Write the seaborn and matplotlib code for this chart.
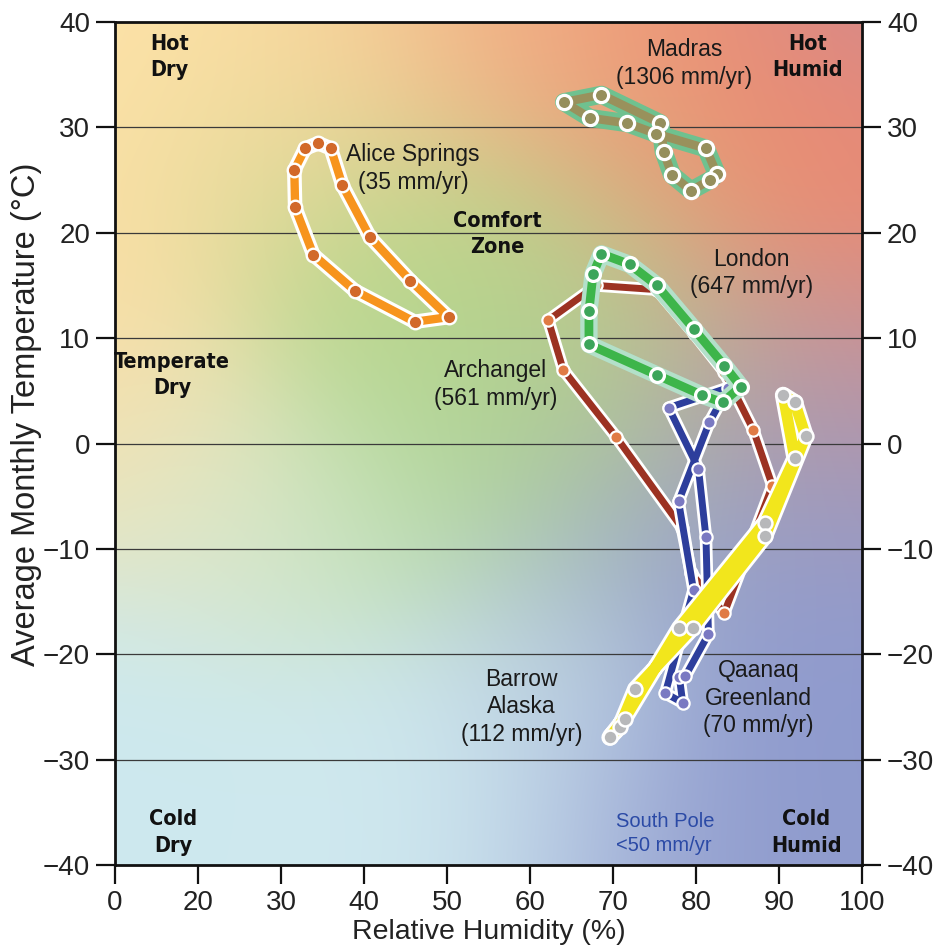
import numpy as np
import matplotlib
matplotlib.use("Agg")
import matplotlib.pyplot as plt
import matplotlib.patheffects as pe
from matplotlib.colors import to_rgb
import seaborn as sns

# ---------------- data ----------------
alice_hum = [50.2, 46.1, 38.9, 33.9, 31.7, 31.6, 32.9, 34.5, 36.0, 37.4, 40.7, 45.6]
alice_temp = [12.0, 11.55, 14.5, 17.9, 22.4, 25.95, 28.0, 28.5, 28.0, 24.5, 19.6, 15.45]

madras_hum = [79.4, 77.1, 76.1, 75.7, 68.6, 64.1, 67.2, 71.7, 75.2, 81.2, 82.5, 81.7]
madras_temp = [24.0, 25.5, 27.7, 30.4, 33.1, 32.4, 30.9, 30.4, 29.4, 28.0, 25.6, 25.0]

london_hum = [83.2, 85.4, 83.4, 79.7, 75.3, 72.0, 68.6, 67.6, 67.1, 67.1, 75.3, 80.7]
london_temp = [3.9, 5.4, 7.4, 10.9, 15.0, 17.0, 18.0, 16.1, 12.55, 9.4, 6.5, 4.6]

archangel_hum = [83.4, 79.4, 78.3, 70.4, 64.0, 62.2, 68.0, 75.3, 79.7, 83.4, 86.9, 89.2]
archangel_temp = [-16.1, -12.3, -8.0, 0.6, 7.0, 11.7, 15.0, 14.6, 10.5, 6.8, 1.3, -4.0]

barrow_hum = [78.0, 78.4, 76.3, 79.7, 77.9, 81.6, 83.9, 76.7, 80.3, 81.2, 81.5, 78.7]
barrow_temp = [-22.2, -24.6, -23.7, -13.9, -5.5, 2.0, 5.3, 3.4, -2.4, -8.9, -18.1, -22.1]

qaanaq_hum = [70.8, 69.6, 71.4, 78.0, 88.3, 91.9, 90.5, 91.9, 93.2, 88.3, 79.6, 72.7]
qaanaq_temp = [-26.9, -27.9, -26.1, -17.5, -7.5, -1.4, 4.6, 3.9, 0.7, -8.8, -17.5, -23.3]

x_ticks = [10, 20, 30, 40, 50, 60, 70, 80, 90, 100]
x_tick_labels = ["0", "20", "30", "40", "50", "60", "70", "80", "90", "100"]
y_ticks = [-40, -30, -20, -10, 0, 10, 20, 30, 40]

# ---------------- styling ----------------
sns.set_theme(style="white")
plt.rcParams["font.family"] = ["Liberation Sans", "DejaVu Sans"]
plt.rcParams["axes.unicode_minus"] = True

fig = plt.figure(figsize=(9.46, 9.5), dpi=100)
ax = fig.add_axes([0.1216, 0.0895, 0.9112 - 0.1216, 0.9768 - 0.0895])

# ---------------- background gradient ----------------
anchors = [
    (11, 39, "#fde4aa"), (11, 22, "#fde0a6"), (12, 6, "#f9dea8"),
    (25, 38, "#fcdea2"), (40, 38, "#f6d29a"), (55, 39, "#f2b88a"),
    (65, 39, "#f0a07c"), (80, 38, "#f08f74"), (99, 39, "#c68a9c"),
    (97, 30, "#f2866a"), (88, 27, "#f18a68"), (98, 18, "#e88c78"),
    (76, 24, "#d8b684"), (98, 8, "#c8909c"), (98, 0, "#a595b3"),
    (28, 25, "#dcd999"), (40, 12, "#b7d78d"), (50, 20, "#c2d58c"),
    (55, 5, "#aed38c"), (63, 12, "#b4d48c"), (65, 1, "#a8cf90"),
    (75, 9, "#bebf94"), (86, 4, "#b4a0a6"), (18, -4, "#e6e8c6"),
    (30, -8, "#cfe5cc"), (46, -4, "#bddfae"), (15, -25, "#cde9ef"),
    (40, -30, "#cfe9ef"), (57, -35, "#cfe8ef"), (62, -20, "#c2d8e4"),
    (71, -35, "#9eaad6"), (86, -35, "#8e9acc"), (96, -20, "#8e9acf"),
    (82, -10, "#929ccd"), (71, -8, "#a3b2cc"), (96, -8, "#939ccb"),
]
gx = np.linspace(10, 100, 360)
gy = np.linspace(-40, 40, 360)
GX, GY = np.meshgrid(gx, gy)
num = np.zeros(GX.shape + (3,))
den = np.zeros(GX.shape)
sig = 95.0
for ax_x, ax_y, c in anchors:
    d2 = ((GX - ax_x) * 8.3) ** 2 + ((GY - ax_y) * 10.53) ** 2
    w = np.exp(-d2 / (2 * sig ** 2))
    num += w[..., None] * np.array(to_rgb(c))
    den += w
img = num / den[..., None]
ax.imshow(img, extent=[10, 100, -40, 40], origin="lower", aspect="auto",
          zorder=0, interpolation="bilinear")

# grid lines
for yv in [-30, -20, -10, 0, 10, 20, 30]:
    ax.axhline(yv, color="#3a3a3a", lw=0.9, zorder=1)


def loop(vals):
    return list(vals) + [vals[0]]


def draw(hum, temp, line_c, halo_c, halo_w, line_w, mk_c, mk_s, mk_ew, z):
    sns.lineplot(x=loop(hum), y=loop(temp), sort=False, estimator=None, ax=ax,
                 color=line_c, lw=line_w, zorder=z,
                 path_effects=[pe.Stroke(linewidth=halo_w, foreground=halo_c),
                               pe.Normal()],
                 solid_joinstyle="round", solid_capstyle="round")
    sns.scatterplot(x=hum, y=temp, ax=ax, s=mk_s, color=mk_c,
                    edgecolor="white", linewidth=mk_ew, zorder=z + 0.5)


draw(alice_hum, alice_temp, "#f7941d", "white", 10.5, 6.0, "#d2692a", 95, 1.7, 3)
draw(madras_hum, madras_temp, "#99915c", "#6fc18f", 13, 6.2, "#958f5c", 105, 2.3, 3)
draw(archangel_hum, archangel_temp, "#9c3222", "white", 9.0, 5.0, "#e07b45", 78, 1.6, 4)
draw(barrow_hum, barrow_temp, "#2d3e9c", "white", 9.0, 5.0, "#7a79c2", 78, 1.6, 6)
draw(london_hum, london_temp, "#3db54a", "#b3e0c9", 12.5, 6.3, "#3ca55a", 100, 2.3, 8)
draw(qaanaq_hum, qaanaq_temp, "#f2e61c", "white", 12, 8.0, "#b7b8ba", 100, 1.8, 10)

# ---------------- text ----------------
for tx, ty, s in [(16.6, 36.7, "Hot\nDry"), (93.5, 36.7, "Hot\nHumid"),
                  (56.0, 19.9, "Comfort\nZone"), (16.9, 6.5, "Temperate\nDry"),
                  (17.0, -36.9, "Cold\nDry"), (93.3, -36.9, "Cold\nHumid")]:
    ax.text(tx, ty, s, ha="center", va="center", fontsize=15.5, fontweight="bold",
            family=["DejaVu Sans"], fontstretch="condensed",
            color="#111111", linespacing=1.4, zorder=20)

for tx, ty, s in [(78.6, 36.06, "Madras\n(1306 mm/yr)"),
                  (45.9, 26.1, "Alice Springs\n(35 mm/yr)"),
                  (86.7, 16.2, "London\n(647 mm/yr)"),
                  (55.9, 5.6, "Archangel\n(561 mm/yr)"),
                  (59.0, -25.0, "Barrow\nAlaska\n(112 mm/yr)"),
                  (87.5, -24.2, "Qaanaq\nGreenland\n(70 mm/yr)")]:
    ax.text(tx, ty, s, ha="center", va="center", fontsize=16.5,
            color="#1a1a1a", linespacing=1.25, zorder=20)

ax.text(70.4, -37.0, "South Pole\n<50 mm/yr", ha="left", va="center",
        fontsize=14.5, color="#2b4aa6", linespacing=1.3, zorder=20)

# ---------------- axes ----------------
ax.set_xlim(10, 100)
ax.set_ylim(-40, 40)
ax.set_xticks(x_ticks)
ax.set_xticklabels(x_tick_labels)
ax.set_yticks(y_ticks)
ax.tick_params(axis="both", direction="out", length=14, width=1.6,
               labelsize=20, color="#111111", labelcolor="#222222", pad=4)
ax.tick_params(axis="y", right=True, labelright=True, left=True, labelleft=True)
ax.tick_params(axis="x", bottom=True)
for sp in ax.spines.values():
    sp.set_color("#111111")
    sp.set_linewidth(2)
    sp.set_zorder(30)
ax.set_xlabel("Relative Humidity (%)", fontsize=20.5, color="#222222", labelpad=2)
ax.set_ylabel("Average Monthly Temperature (°C)", fontsize=23.5, color="#222222",
              va="center")
ax.yaxis.set_label_coords(-0.118, 0.535)
ax.grid(False)

fig.savefig("out.png", dpi=100)
